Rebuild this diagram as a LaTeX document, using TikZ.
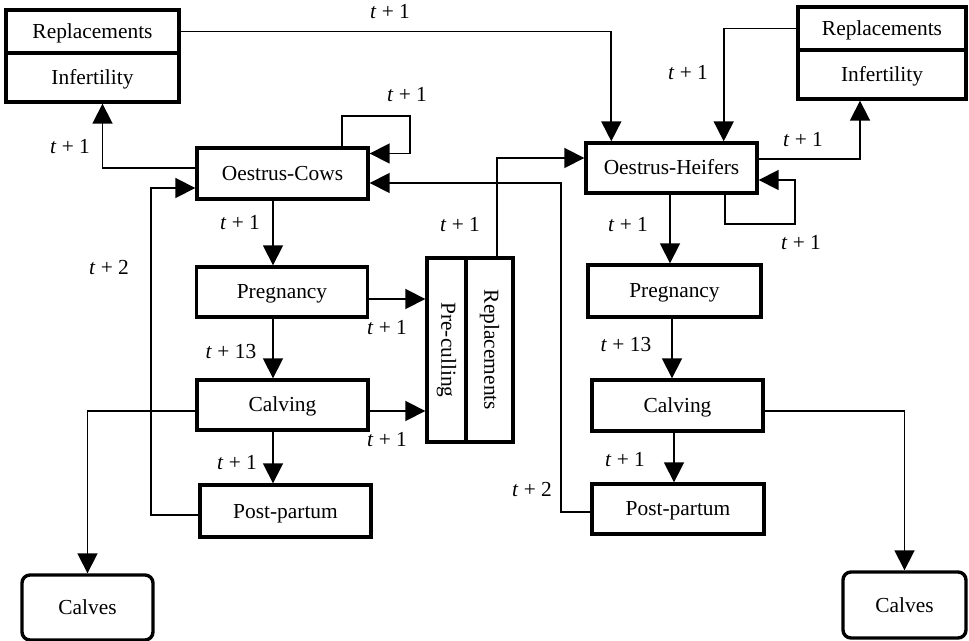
\documentclass[tikz,border=0pt]{standalone}
\usepackage{fontspec}
\setmainfont{Liberation Serif}
\usepackage{graphicx}
\usepackage{tikz}
\usetikzlibrary{arrows.meta}

\tikzset{
  box/.style={draw, line width=1.7pt, inner sep=0pt, minimum width=85.5pt, minimum height=25.5pt,
    text height=7pt, text depth=0pt},
  calf/.style={box, rounded corners=4pt},
  arr/.style={line width=0.9pt, -{Triangle[width=10pt,length=10pt]}},
  lbl/.style={inner sep=0pt},
}
\newcommand{\tp}[1]{\textit{t} + #1}

\begin{document}
\begin{tikzpicture}[x=0.5pt, y=-0.5pt, font=\fontsize{10.7pt}{13pt}\selectfont]
  \useasboundingbox (0,0) rectangle (969,641);
  % Nodes
  \node[box, minimum width=86.5pt, minimum height=21.5pt] (rep1) at (92.5,31.5) {Replacements};
  \node[box, minimum width=86.5pt, minimum height=24.5pt] (inf1) at (92.5,77.5) {Infertility};
  \node[box, minimum width=84pt, minimum height=21.5pt] (rep2) at (882,28.5) {Replacements};
  \node[box, minimum width=84pt, minimum height=24.5pt] (inf2) at (882,74.5) {Infertility};

  \node[box] (ocows) at (282.5,173.5) {Oestrus-Cows};
  \node[box, minimum height=25pt] (preg1) at (282,292) {Pregnancy};
  \node[box, minimum height=25pt] (calv1) at (282.5,405) {Calving};
  \node[box, minimum height=26pt] (post1) at (285.5,511) {Post-partum};

  \node[box, minimum height=25pt] (oheif) at (671.5,168) {Oestrus-Heifers};
  \node[box, minimum width=86.5pt, minimum height=26pt] (preg2) at (674.5,291) {Pregnancy};
  \node[box] (calv2) at (677.5,405.5) {Calving};
  \node[box, minimum width=86pt, minimum height=25pt] (post2) at (678,509) {Post-partum};

  \node[box, minimum width=19.5pt, minimum height=92pt, text height=, text depth=] (pcull) at (446.5,350) {\rotatebox{-90}{Pre-culling}};
  \node[box, minimum width=23.5pt, minimum height=92pt, text height=, text depth=] (repl3) at (489.5,350) {\rotatebox{-90}{Replacements}};

  \node[calf, minimum width=65.5pt, minimum height=32.5pt] (calves1) at (87.5,607.5) {Calves};
  \node[calf, minimum width=61.5pt, minimum height=33pt] (calves2) at (904.5,605) {Calves};

  % Edges
  \foreach \a/\b/\dx in {ocows/preg1/-4.75pt, preg1/calv1/-4.5pt, calv1/post1/-4.75pt,
                         oheif/preg2/-0.75pt, preg2/calv2/-1.25pt, calv2/post2/-1.75pt}
    \draw[arr] ([xshift=\dx]\a.south) -- ([xshift=\dx]\a.south |- \b.north);

  \draw[arr] (rep1.east) -| ([xshift=13.5pt]oheif.north west);
  \draw[arr] (rep2.west) -| ([xshift=-17.5pt]oheif.north east);
  \draw[arr] ([yshift=4.5pt]oheif.east) -| ([xshift=-11pt]inf2.south);
  \draw[arr] ([xshift=-17pt]oheif.south east) |- ++(70,29) |- ([yshift=-6pt]oheif.east);
  \draw[arr] ([xshift=-14pt]ocows.north east) |- ++(68,-30) |- ([yshift=10pt]ocows.east);
  \draw[arr] ([yshift=2.75pt]ocows.west) -| ([xshift=5pt]inf1.south);
  \draw[arr] ([yshift=-2pt]post1.west) -| ++(-47,-327) -- ([yshift=-7.25pt]ocows.west);
  \draw[arr] ([yshift=-1.5pt]post2.west) -| ++(-29,-329) -- ([yshift=-4.75pt]ocows.east);
  \draw[arr] ([yshift=-3.5pt]preg1.east) -- ([yshift=-3.5pt]preg1.east -| pcull.west);
  \draw[arr] ([yshift=-3pt]calv1.east) -- ([yshift=-3pt]calv1.east -| pcull.west);
  \draw[arr] ([yshift=-3pt]calv1.west) -| (calves1.north);
  \draw[arr] ([xshift=3.75pt]repl3.north) |- ([yshift=5pt]oheif.west);
  \draw[arr] ([yshift=-2.75pt]calv2.east) -| (calves2.north);

  % Labels
  \node[lbl] (l1) at (390,12) {\tp{1}};
  \node[lbl] (l2) at (70,147) {\tp{1}};
  \node[lbl] (l3) at (407,95) {\tp{1}};
  \node[lbl] (l4) at (240,223) {\tp{1}};
  \node[lbl] (l5) at (109,268) {\tp{2}};
  \node[lbl] (l6) at (460,225) {\tp{1}};
  \node[lbl] (l7) at (387,328) {\tp{1}};
  \node[lbl] (l8) at (231,352) {\tp{13}};
  \node[lbl] (l9) at (387,440) {\tp{1}};
  \node[lbl] (l10) at (237,463) {\tp{1}};
  \node[lbl] (l11) at (532,490) {\tp{2}};
  \node[lbl] (l12) at (688,73) {\tp{1}};
  \node[lbl] (l13) at (803,140) {\tp{1}};
  \node[lbl] (l14) at (628,225) {\tp{1}};
  \node[lbl] (l15) at (801,243) {\tp{1}};
  \node[lbl] (l16) at (626,345) {\tp{13}};
  \node[lbl] (l17) at (625,460) {\tp{1}};
\end{tikzpicture}
\end{document}
